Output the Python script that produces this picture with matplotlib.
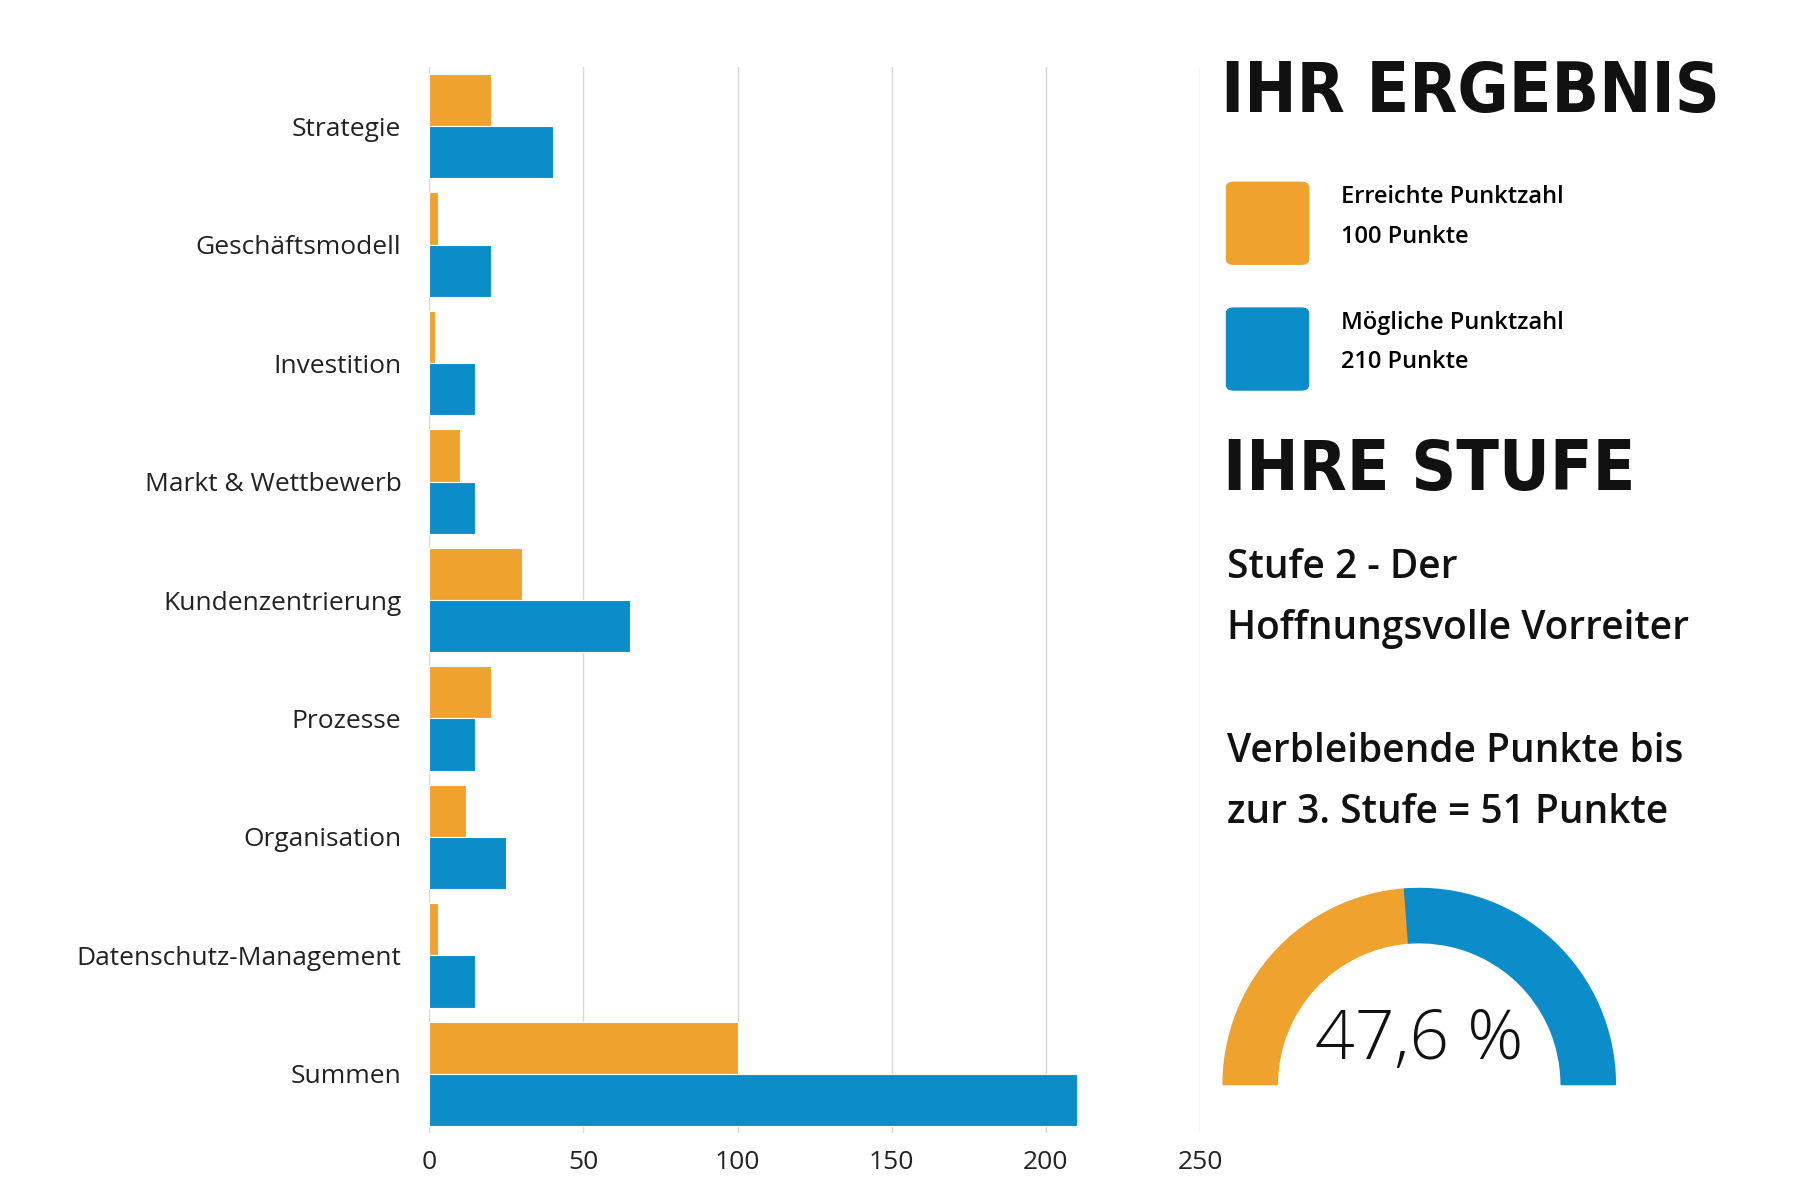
import matplotlib
matplotlib.use("Agg")
import matplotlib.pyplot as plt
import numpy as np
from matplotlib.patches import Wedge, FancyBboxPatch

categories = ["Strategie", "Geschäftsmodell", "Investition", "Markt & Wettbewerb",
              "Kundenzentrierung", "Prozesse", "Organisation",
              "Datenschutz-Management", "Summen"]
erreicht = [20, 3, 2, 10, 30, 20, 12, 3, 100]
moeglich = [40, 20, 15, 15, 65, 15, 25, 15, 210]
xticks = [0, 50, 100, 150, 200, 250]
percent = 47.6

ORANGE = "#F0A22E"
BLUE = "#0C8CC8"
W, H = 1560, 1040  # layout grid of the reference

plt.rcParams["font.family"] = ["Open Sans", "DejaVu Sans"]
fig = plt.figure(figsize=(18, 12), dpi=100)

ax = fig.add_axes([372 / W, 1 - 982 / H, 668 / W, 924 / H])
y = np.arange(len(categories))
bh = 0.44
ax.barh(y - bh / 2, erreicht, height=bh, color=ORANGE, edgecolor="white", linewidth=0.8)
ax.barh(y + bh / 2, moeglich, height=bh, color=BLUE, edgecolor="white", linewidth=0.8)
ax.set_ylim(len(categories) - 0.5, -0.5)
ax.set_xlim(0, 250)
ax.set_xticks(xticks)
ax.set_yticks(y)
ax.set_yticklabels(categories, fontsize=19, color="#222222")
ax.tick_params(axis="x", labelsize=19, length=0, pad=12, colors="#222222")
ax.tick_params(axis="y", length=0, pad=20)
ax.grid(axis="x", color="#d9d9d9", linewidth=1)
ax.set_axisbelow(True)
for s in ax.spines.values():
    s.set_visible(False)

def fx(px):
    return px / W

def fy(py):
    return 1 - py / H

title_kw = dict(family="DejaVu Sans", fontstretch="condensed", fontweight="bold",
                fontsize=50, color="#111111", va="center")
fig.text(fx(1058), fy(80), "IHR ERGEBNIS", **title_kw)
fig.text(fx(1060), fy(408), "IHRE STUFE", **title_kw)

for top, col, lab, pts in [(158, ORANGE, "Erreichte Punktzahl", "100 Punkte"),
                           (267, BLUE, "Mögliche Punktzahl", "210 Punkte")]:
    fig.patches.append(FancyBboxPatch((fx(1063), fy(top + 71)), fx(71), 71 / H,
                                      boxstyle="round,pad=0,rounding_size=0.004",
                                      transform=fig.transFigure, color=col))
    fig.text(fx(1162), fy(top + 13), lab, fontsize=17, fontweight="semibold", va="center")
    fig.text(fx(1162), fy(top + 47), pts, fontsize=17, fontweight="semibold", va="center")

txt_kw = dict(fontsize=28, fontweight="semibold", color="#111111", va="center")
fig.text(fx(1063), fy(492), "Stufe 2 - Der", **txt_kw)
fig.text(fx(1063), fy(545), "Hoffnungsvolle Vorreiter", **txt_kw)
fig.text(fx(1063), fy(652), "Verbleibende Punkte bis", **txt_kw)
fig.text(fx(1063), fy(705), "zur 3. Stufe = 51 Punkte", **txt_kw)

gx = fig.add_axes([fx(1050), fy(960), 360 / W, 210 / H])
gx.set_xlim(-180, 180)
gx.set_ylim(-20, 190)
gx.set_aspect("equal")
gx.axis("off")
split = 180 - percent / 100 * 180
gx.add_patch(Wedge((0, 0), 170, split, 180, width=47, color=ORANGE))
gx.add_patch(Wedge((0, 0), 170, 0, split, width=47, color=BLUE))
gx.text(0, 38, "47,6 %", ha="center", va="center", fontsize=50,
        fontweight="light", color="#111111")

fig.savefig("out.png", dpi=100, facecolor="white")
